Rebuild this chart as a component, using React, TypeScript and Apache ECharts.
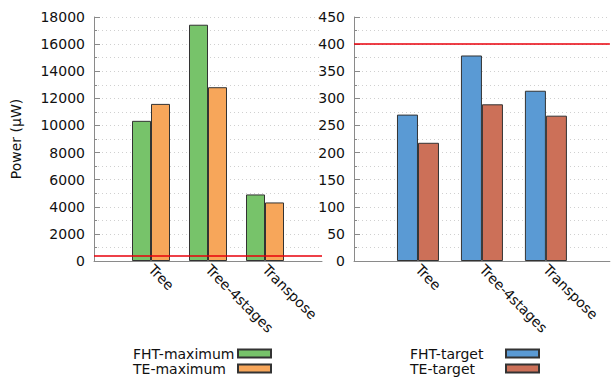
import React, { useEffect, useRef } from "react";
import * as echarts from "echarts";

const categories = ["Tree", "Tree-4stages", "Transpose"];
const fhtMaximum = [10340, 17430, 4910];
const teMaximum = [11590, 12820, 4320];
const fhtTarget = [270, 379, 314];
const teTarget = [218, 289, 268];
const powerBudget = 400;
const leftMax = 18000;
const leftInterval = 2000;
const rightMax = 450;
const rightInterval = 50;

const FONT = "DejaVu Sans";
const FS = 14;
const axisCats = ["", ...categories, ""];

function xAxisFor(gridIndex: number) {
  return {
    type: "category",
    gridIndex,
    data: axisCats,
    boundaryGap: false,
    axisLine: { show: true, lineStyle: { color: "#8a8a8a", width: 1 } },
    axisTick: { show: false },
    axisLabel: {
      rotate: -45,
      margin: 6,
      fontFamily: FONT,
      fontSize: FS,
      color: "#111",
      interval: 0,
    },
    splitLine: { show: false },
  };
}

function yAxisFor(gridIndex: number, max: number, interval: number, name?: string) {
  return {
    type: "value",
    gridIndex,
    min: 0,
    max,
    interval,
    name,
    nameLocation: "middle",
    nameRotate: 90,
    nameGap: 71,
    nameTextStyle: { fontFamily: FONT, fontSize: FS, color: "#111" },
    axisLine: { show: true, lineStyle: { color: "#8a8a8a", width: 1 } },
    axisTick: { show: true, inside: true, length: 6, lineStyle: { color: "#8a8a8a" } },
    minorTick: { show: true, splitNumber: 2, length: 3, lineStyle: { color: "#8a8a8a" } },
    axisLabel: {
      fontFamily: FONT,
      fontSize: FS,
      color: "#111",
      margin: 9,
      formatter: (v: number) => String(v),
    },
    splitLine: { show: true, lineStyle: { color: "#d0d0d0", type: [1, 3], width: 1 } },
    minorSplitLine: { show: true, lineStyle: { color: "#d0d0d0", type: [1, 3], width: 1 } },
  };
}

function barSeries(
  name: string,
  values: number[],
  color: string,
  axisIndex: number,
  width: number,
  withLine: boolean
) {
  return {
    type: "bar",
    name,
    xAxisIndex: axisIndex,
    yAxisIndex: axisIndex,
    data: [null, ...values, null],
    barWidth: width,
    barGap: "0%",
    itemStyle: { color, borderColor: "#333", borderWidth: 1 },
    markLine: withLine
      ? {
          silent: true,
          symbol: "none",
          label: { show: false },
          lineStyle: { color: "#e8000b", width: 1.5, type: "solid" },
          data: [{ yAxis: powerBudget }],
        }
      : undefined,
  };
}

function legendFor(names: string[], left: number, textWidth: number) {
  return {
    data: names,
    orient: "vertical",
    left,
    top: 346,
    height: 34,
    padding: 0,
    align: "right",
    itemWidth: 33,
    itemHeight: 8,
    itemGap: 0,
    icon: "rect",
    formatter: (name: string) => `{t|${name}}`,
    textStyle: {
      fontFamily: FONT,
      fontSize: FS,
      color: "#111",
      lineHeight: 15,
      rich: {
        t: {
          width: textWidth,
          align: "left",
          fontFamily: FONT,
          fontSize: FS,
          color: "#111",
          lineHeight: 15,
        },
      },
    },
  };
}

export default function App() {
  const ref = useRef<HTMLDivElement>(null);
  useEffect(() => {
    document.body.style.margin = "0";
    const chart = echarts.init(ref.current!, null, { renderer: "svg" });
    chart.setOption({
      animation: false,
      backgroundColor: "#ffffff",
      textStyle: { fontFamily: FONT },
      grid: [
        { left: 94, top: 17, width: 228, height: 244, containLabel: false },
        { left: 354, top: 17, width: 264, height: 244, containLabel: false },
      ],
      xAxis: [xAxisFor(0), xAxisFor(1)],
      yAxis: [
        yAxisFor(0, leftMax, leftInterval, "Power (μW)"),
        yAxisFor(1, rightMax, rightInterval),
      ],
      legend: [
        legendFor(["FHT-maximum", "TE-maximum"], 133, 100),
        legendFor(["FHT-target", "TE-target"], 410, 91),
      ],
      series: [
        barSeries("FHT-maximum", fhtMaximum, "#77c36a", 0, 19, true),
        barSeries("TE-maximum", teMaximum, "#f7a65a", 0, 19, false),
        barSeries("FHT-target", fhtTarget, "#5a9ad4", 1, 21, true),
        barSeries("TE-target", teTarget, "#cc7058", 1, 21, false),
      ],
    });
    return () => chart.dispose();
  }, []);
  return <div ref={ref} style={{ width: 612, height: 380 }} />;
}
